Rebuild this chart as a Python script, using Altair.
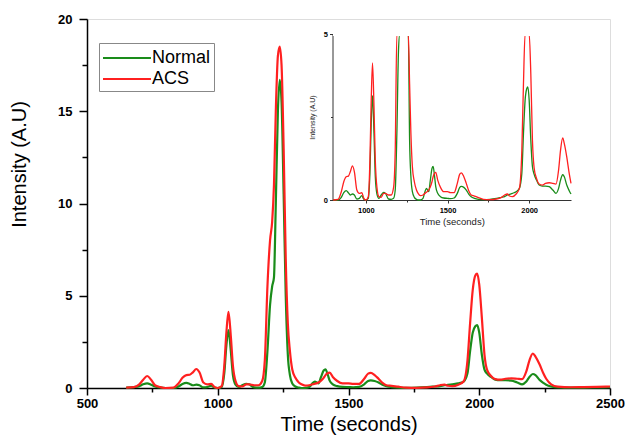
import altair as alt
import pandas as pd

time = [650, 680, 700, 715, 730, 745, 760, 780, 800, 830,
        850, 865, 880, 893, 905, 918, 930, 945, 960, 975,
        988, 1000, 1015, 1025, 1033, 1041, 1050, 1058, 1068, 1080,
        1094, 1109, 1120, 1139, 1155, 1170, 1180, 1190, 1200, 1208,
        1215, 1222, 1230, 1237, 1244, 1252, 1260, 1268, 1276, 1285,
        1297, 1310, 1320, 1334, 1350, 1362, 1371, 1385, 1395, 1405,
        1412, 1420, 1428, 1440, 1457, 1477, 1500, 1518, 1540, 1560,
        1575, 1585, 1600, 1615, 1630, 1645, 1665, 1690, 1720, 1760,
        1800, 1830, 1850, 1867, 1880, 1897, 1920, 1940, 1955, 1965,
        1975, 1985, 1992, 2000, 2010, 2020, 2030, 2045, 2061, 2080,
        2100, 2123, 2145, 2164, 2180, 2192, 2205, 2215, 2230, 2245,
        2256, 2275, 2300, 2350, 2400, 2450, 2500]

normal = [0.02, 0.05, 0.10, 0.20, 0.25, 0.18, 0.08, 0.03, 0.00, 0.00,
          0.08, 0.22, 0.28, 0.22, 0.15, 0.18, 0.15, 0.03, 0.05, 0.13,
          0.02, 0.00, 0.05, 0.80, 2.30, 3.14, 2.00, 0.70, 0.18, 0.05,
          0.15, 0.23, 0.20, 0.03, 0.02, 0.05, 0.30, 2.00, 4.50, 5.50,
          6.00, 10.0, 15.0, 16.7, 15.5, 10.5, 5.00, 1.80, 0.70, 0.25,
          0.08, 0.02, 0.00, 0.00, 0.05, 0.25, 0.35, 0.25, 0.60, 0.95,
          1.01, 0.75, 0.40, 0.20, 0.10, 0.06, 0.05, 0.04, 0.06, 0.20,
          0.38, 0.41, 0.38, 0.30, 0.18, 0.10, 0.05, 0.02, 0.01, 0.02,
          0.05, 0.08, 0.10, 0.15, 0.17, 0.20, 0.25, 0.35, 0.80, 2.00,
          3.00, 3.35, 3.41, 3.00, 1.80, 1.00, 0.78, 0.60, 0.45, 0.42,
          0.42, 0.40, 0.30, 0.20, 0.35, 0.60, 0.76, 0.70, 0.45, 0.28,
          0.18, 0.08, 0.03, 0.02, 0.02, 0.03, 0.04]

acs = [0.02, 0.05, 0.20, 0.45, 0.65, 0.45, 0.15, 0.05, 0.00, 0.02,
       0.25, 0.55, 0.70, 0.72, 0.85, 1.03, 0.85, 0.30, 0.20, 0.22,
       0.05, 0.00, 0.10, 1.20, 3.00, 4.13, 2.80, 1.20, 0.38, 0.10,
       0.08, 0.20, 0.20, 0.15, 0.15, 0.38, 1.50, 5.50, 8.00, 9.00,
       11.0, 15.0, 18.0, 18.5, 17.5, 13.0, 7.00, 3.50, 2.00, 1.00,
       0.55, 0.30, 0.20, 0.13, 0.15, 0.20, 0.23, 0.30, 0.40, 0.55,
       0.70, 0.80, 0.83, 0.60, 0.38, 0.25, 0.25, 0.22, 0.22, 0.50,
       0.78, 0.82, 0.70, 0.50, 0.28, 0.15, 0.12, 0.07, 0.02, 0.01,
       0.03, 0.08, 0.15, 0.18, 0.12, 0.10, 0.18, 0.35, 1.50, 3.50,
       5.30, 6.10, 6.20, 5.60, 3.80, 1.80, 0.98, 0.65, 0.48, 0.45,
       0.50, 0.52, 0.50, 0.48, 0.90, 1.50, 1.87, 1.70, 1.30, 0.80,
       0.50, 0.20, 0.07, 0.04, 0.05, 0.06, 0.08]

series_names = ["Normal", "ACS"]
series_colors = ["#1a8c1a", "#ff2020"]

main_x_ticks = [500, 750, 1000, 1250, 1500, 1750, 2000, 2250, 2500]
main_y_ticks = [0, 2.5, 5, 7.5, 10, 12.5, 15, 17.5, 20]
inset_x_ticks = [1000, 1250, 1500, 1750, 2000]
inset_y_ticks = [0, 2.5, 5]

df = pd.concat([
    pd.DataFrame({"time": time, "value": normal, "series": "Normal", "ord": 0}),
    pd.DataFrame({"time": time, "value": acs, "series": "ACS", "ord": 1}),
], ignore_index=True)

FONT = "Liberation Sans"
W, H = 523, 369

color = alt.Color(
    "series:N",
    scale=alt.Scale(domain=series_names, range=series_colors),
    sort=series_names,
    legend=alt.Legend(
        title=None, orient="none", legendX=12, legendY=24,
        symbolType="M-1,0L3.36,0", symbolSize=484, symbolStrokeWidth=1.8,
        labelOffset=26, labelFontSize=18, labelFont=FONT, labelColor="black",
        strokeColor="#888888", fillColor="white", padding=3, rowPadding=0,
    ),
)

main_lines = alt.Chart(df).mark_line(interpolate="monotone", strokeWidth=2.2).encode(
    x=alt.X("time:Q",
            scale=alt.Scale(domain=[500, 2500], nice=False, zero=False),
            axis=alt.Axis(
                title="Time (seconds)", values=main_x_ticks,
                labelExpr="datum.value % 500 === 0 ? datum.label : ''",
                format="d", grid=False, labelFlush=False,
                tickSize={"condition": {"test": "datum.value % 500 === 0", "value": 7}, "value": 4},
                tickColor="black", tickWidth=1.5, domainColor="black", domainWidth=1.5,
                labelFont=FONT, labelFontSize=13, labelFontWeight="bold", labelColor="black",
                labelPadding=2,
                titleFont=FONT, titleFontSize=20, titleFontWeight="normal", titleColor="black",
                titlePadding=4,
            )),
    y=alt.Y("value:Q",
            scale=alt.Scale(domain=[0, 20], nice=False),
            axis=alt.Axis(
                title="Intensity (A.U)", values=main_y_ticks,
                labelExpr="datum.value % 5 === 0 ? datum.label : ''",
                format="d", grid=False, labelFlush=False,
                tickSize={"condition": {"test": "datum.value % 5 === 0", "value": 8}, "value": 5},
                tickColor="black", tickWidth=1.5, domainColor="black", domainWidth=1.5,
                labelFont=FONT, labelFontSize=13, labelFontWeight="bold", labelColor="black",
                labelPadding=7,
                titleFont=FONT, titleFontSize=20, titleFontWeight="normal", titleColor="black",
                titlePadding=28, titleY=145,
            )),
    color=color,
    order=alt.Order("ord:Q"),
)

inset_lines = alt.Chart(df).transform_filter(
    "datum.time >= 796 && datum.time <= 2256"
).mark_line(interpolate="monotone", strokeWidth=1.3).encode(
    x=alt.X("time:Q",
            scale=alt.Scale(domain=[796, 2256], nice=False, zero=False, range=[245.5, 484]),
            axis=alt.Axis(
                orient="bottom", offset=-188, title="Time (seconds)", values=inset_x_ticks,
                labelExpr="datum.value % 500 === 0 ? datum.label : ''",
                format="d", grid=False, labelFlush=False,
                tickSize={"condition": {"test": "datum.value % 500 === 0", "value": 3}, "value": 2},
                tickColor="#333333", tickWidth=1, domainColor="#333333", domainWidth=1,
                labelFont=FONT, labelFontSize=7.5, labelFontWeight="bold", labelColor="black",
                labelPadding=3,
                titleFont=FONT, titleFontSize=9.5, titleFontWeight="normal", titleColor="#222222",
                titlePadding=3,
            )),
    y=alt.Y("value:Q",
            scale=alt.Scale(domain=[0, 5], nice=False, clamp=True, range=[181, 15]),
            axis=alt.Axis(
                orient="left", offset=-245.5, title="Intensity (A.U)", values=inset_y_ticks,
                labelExpr="datum.value % 5 === 0 ? datum.label : ''",
                format="d", grid=False, labelFlush=False,
                tickSize={"condition": {"test": "datum.value % 5 === 0", "value": 3}, "value": 2},
                tickColor="#333333", tickWidth=1, domainColor="#333333", domainWidth=1,
                labelFont=FONT, labelFontSize=7.5, labelFontWeight="bold", labelColor="black",
                labelPadding=2,
                titleFont=FONT, titleFontSize=7, titleFontWeight="normal", titleColor="#222222",
                titlePadding=8,
            )),
    color=alt.Color("series:N", scale=alt.Scale(domain=series_names, range=series_colors), legend=None),
    order=alt.Order("ord:Q"),
)

mask = alt.Chart(df).mark_rule(color="white", strokeWidth=3.5).encode(
    x=alt.datum(800), x2=alt.datum(2256), y=alt.datum(5),
)

inset = alt.layer(inset_lines, mask)

chart = alt.layer(main_lines, inset).resolve_scale(
    x="independent", y="independent"
).properties(
    width=W, height=H,
    autosize=alt.AutoSizeParams(type="none"),
    padding={"left": 79, "top": 11, "right": 15, "bottom": 48},
).configure_view(stroke=None).configure(background="white")

chart.save("out.html", embed_options={"renderer": "svg", "actions": False})
